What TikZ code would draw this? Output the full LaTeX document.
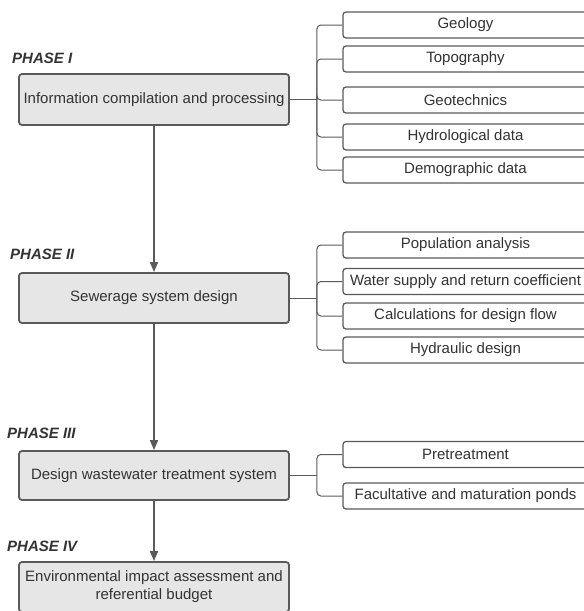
\documentclass[tikz,border=0pt]{standalone}
\usepackage{fontspec}
\setmainfont{Liberation Sans}
\usepackage{xcolor}
\usetikzlibrary{arrows.meta}
\definecolor{edgegray}{HTML}{5A5A5A}
\definecolor{boxfill}{HTML}{E6E6E6}
\definecolor{txtgray}{HTML}{333333}
\tikzset{
  phasebox/.style={draw=edgegray, fill=boxfill, line width=1.8pt, rounded corners=3pt,
    minimum width=270pt, text=txtgray, font=\fontsize{15}{18}\selectfont, align=center, inner sep=0pt},
  itembox/.style={draw=edgegray, fill=white, line width=1.3pt, rounded corners=3pt,
    minimum width=245pt, minimum height=26pt, text=txtgray, font=\fontsize{15}{18}\selectfont, inner sep=0pt},
  phaselabel/.style={anchor=west, text=txtgray, font=\fontsize{15}{18}\selectfont\bfseries\itshape, inner sep=0pt},
  flow/.style={draw=edgegray, line width=1.8pt, -{Triangle[length=10pt,width=8pt]}},
  branch/.style={draw=edgegray, line width=1pt, rounded corners=4pt}
}

\begin{document}
\begin{tikzpicture}[x=1pt,y=-1pt]
  \useasboundingbox (0,0) rectangle (584,611);

  % phases
  \node[phaselabel] (lab1) at (12,58) {PHASE I};
  \node[phaselabel] (lab2) at (10,254) {PHASE II};
  \node[phaselabel] (lab3) at (7,433) {PHASE III};
  \node[phaselabel] (lab4) at (7,546) {PHASE IV};

  \node[phasebox, minimum height=51pt] (info) at (154,99.5) {Information compilation and processing};
  \node[phasebox, minimum height=50pt] (sewer) at (154,298) {Sewerage system design};
  \node[phasebox, minimum height=49pt] (treat) at (154,475.5) {Design wastewater treatment system};
  \node[phasebox, minimum height=50pt] (env) at (154,587) {Environmental impact assessment and\\referential budget};

  \draw[flow] (info) -- (sewer);
  \draw[flow] (sewer) -- (treat);
  \draw[flow] (treat) -- (env);

  % phase I items
  \node[itembox] (geo) at (465.5,25) {Geology};
  \node[itembox] (topo) at (465.5,59) {Topography};
  \node[itembox] (geotec) at (465.5,100) {Geotechnics};
  \node[itembox] (hydro) at (465.5,137) {Hydrological data};
  \node[itembox] (demo) at (465.5,170) {Demographic data};

  % phase II items
  \node[itembox] (pop) at (465.5,245) {Population analysis};
  \node[itembox] (water) at (465.5,281.5) {Water supply and return coefficient};
  \node[itembox] (calc) at (465.5,316) {Calculations for design flow};
  \node[itembox] (hydr) at (465.5,350) {Hydraulic design};

  % phase III items
  \node[itembox] (pre) at (465.5,454.5) {Pretreatment};
  \node[itembox] (ponds) at (465.5,496) {Facultative and maturation ponds};

  % brackets
  \draw[branch] (info.east) -- ++(27,0) coordinate (j1);
  \foreach \n in {geo,topo,geotec,hydro,demo}
    \draw[branch] (j1) |- (\n.west);
  \draw[branch] (sewer.east) -- ++(27,0) coordinate (j2);
  \foreach \n in {pop,water,calc,hydr}
    \draw[branch] (j2) |- (\n.west);
  \draw[branch] (treat.east) -- ++(27,0) coordinate (j3);
  \foreach \n in {pre,ponds}
    \draw[branch] (j3) |- (\n.west);
\end{tikzpicture}
\end{document}
